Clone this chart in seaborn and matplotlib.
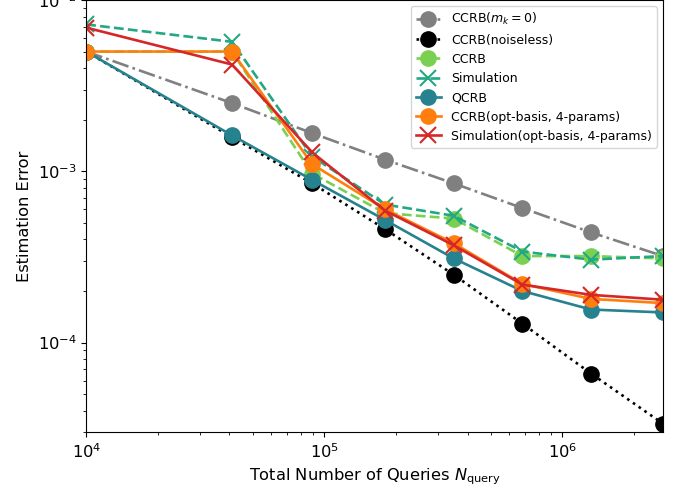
import numpy as np
import pandas as pd
import matplotlib
matplotlib.use("Agg")
import matplotlib.pyplot as plt
import seaborn as sns

# total number of queries
n_query = [1e4, 4.1e4, 8.9e4, 1.8e5, 3.5e5, 6.8e5, 1.32e6, 2.65e6]

# estimation errors
ccrb_mk0 = [5.0e-3, 2.5e-3, 1.67e-3, 1.17e-3, 8.5e-4, 6.1e-4, 4.4e-4, 3.2e-4]
ccrb_noiseless = [5.0e-3, 1.58e-3, 8.5e-4, 4.6e-4, 2.49e-4, 1.29e-4, 6.6e-5, 3.36e-5]
ccrb = [5.0e-3, 5.0e-3, 9.7e-4, 5.7e-4, 5.3e-4, 3.2e-4, 3.2e-4, 3.1e-4]
simulation = [7.2e-3, 5.7e-3, 1.22e-3, 6.4e-4, 5.5e-4, 3.4e-4, 3.05e-4, 3.2e-4]
qcrb = [5.0e-3, 1.62e-3, 8.9e-4, 5.2e-4, 3.1e-4, 2.0e-4, 1.56e-4, 1.5e-4]
ccrb_opt = [5.0e-3, 5.0e-3, 1.1e-3, 6.0e-4, 3.8e-4, 2.2e-4, 1.8e-4, 1.7e-4]
sim_opt = [6.9e-3, 4.2e-3, 1.29e-3, 5.9e-4, 3.7e-4, 2.18e-4, 1.9e-4, 1.78e-4]

series = [
    (r"CCRB($m_k=0$)", ccrb_mk0, "gray", "-.", "o"),
    ("CCRB(noiseless)", ccrb_noiseless, "black", ":", "o"),
    ("CCRB", ccrb, "#7ad151", "--", "o"),
    ("Simulation", simulation, "#22a884", "--", "x"),
    ("QCRB", qcrb, "#26828e", "-", "o"),
    ("CCRB(opt-basis, 4-params)", ccrb_opt, "#ff7f0e", "-", "o"),
    ("Simulation(opt-basis, 4-params)", sim_opt, "#d62728", "-", "x"),
]

plt.rcParams["font.size"] = 11.7

fig, ax = plt.subplots(figsize=(6.95, 4.9), dpi=100)
fig.subplots_adjust(left=0.124, right=0.954, top=1.0, bottom=0.118)

for label, vals, color, ls, mk in series:
    df = pd.DataFrame({"N": n_query, "err": vals})
    sns.lineplot(
        data=df, x="N", y="err", ax=ax, label=label, color=color,
        linestyle=ls, linewidth=1.9, marker=mk, markersize=11,
        markeredgecolor=color, markeredgewidth=1.5 if mk == "x" else 1.0,
    )

ax.set_xscale("log")
ax.set_yscale("log")
ax.set_xlim(1e4, 2.65e6)
ax.set_ylim(3e-5, 1e-2)
ax.set_xlabel(r"Total Number of Queries $N_{\mathrm{query}}$")
ax.set_ylabel("Estimation Error")
ax.legend(loc="upper right", fontsize=9.0)

plt.savefig("out.png", dpi=100)
